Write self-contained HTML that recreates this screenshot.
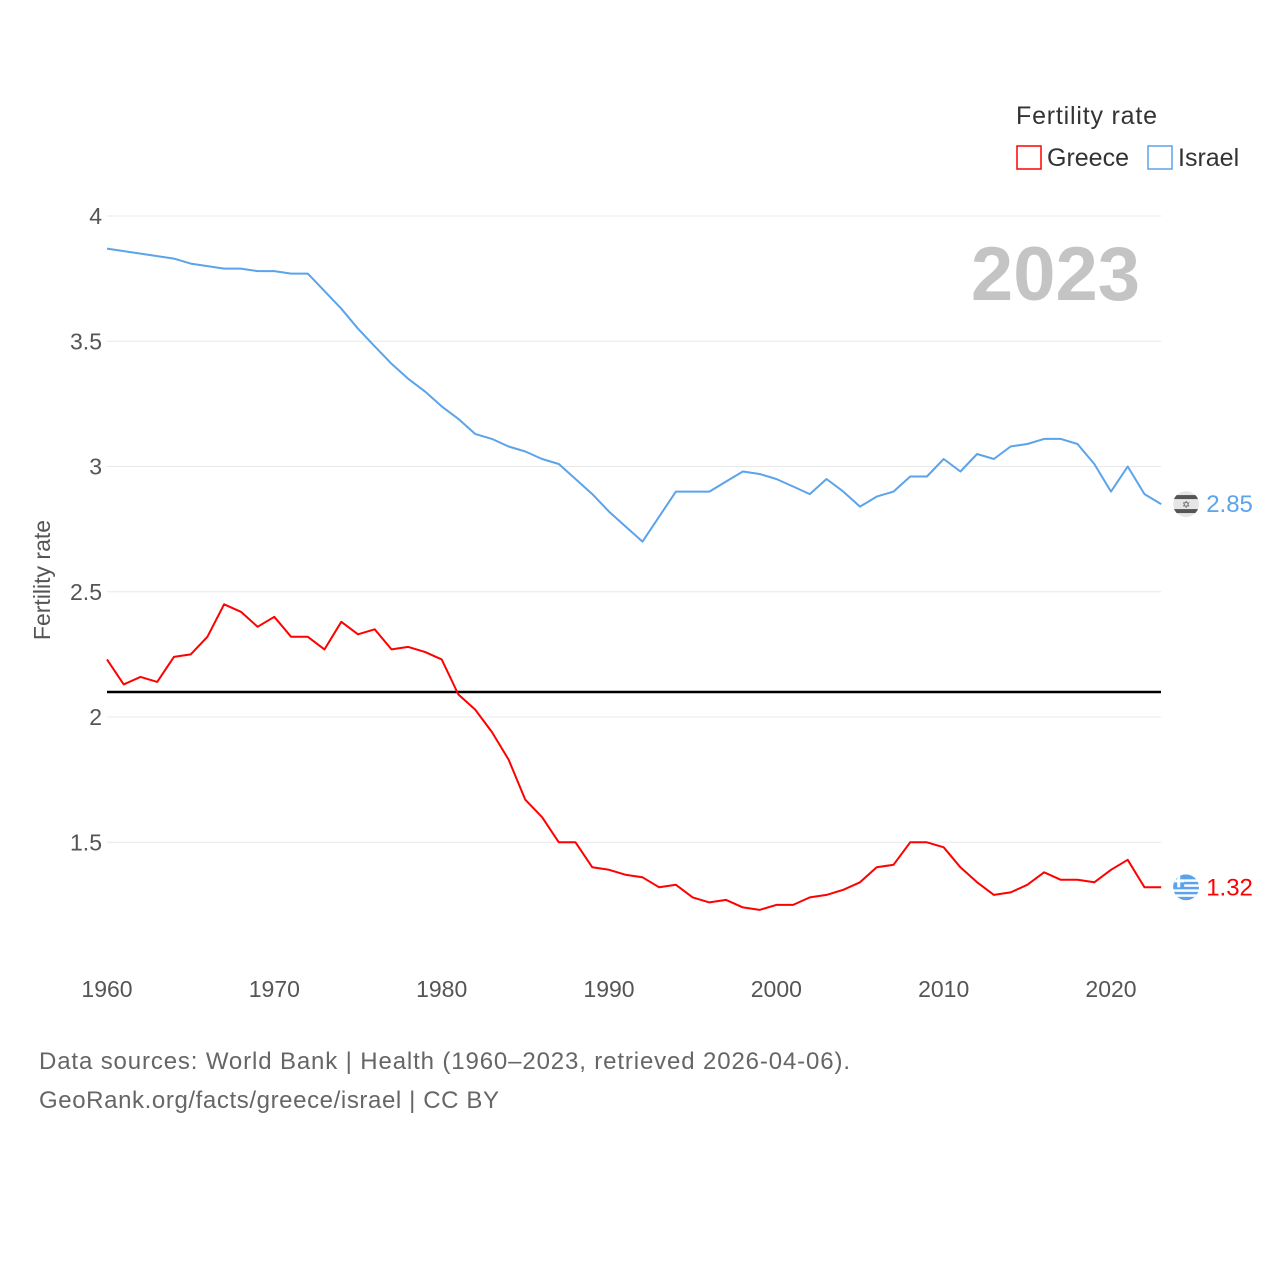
<!DOCTYPE html>
<html><head><meta charset="utf-8">
<style>
html,body{margin:0;padding:0;background:#fff;}
body{width:1280px;height:1280px;overflow:hidden;font-family:"Liberation Sans",sans-serif;}
svg text{font-family:"Liberation Sans",sans-serif;}
</style></head>
<body>
<svg id="chart" width="1280" height="1280" viewBox="0 0 1280 1280" xmlns="http://www.w3.org/2000/svg">
  <defs>
    <clipPath id="flagclip1"><circle cx="1186" cy="503" r="13"/></clipPath>
    <clipPath id="flagclip2"><circle cx="1186" cy="886" r="13"/></clipPath>
  </defs>
  <g id="grid"></g>
  <g id="yticks"></g>
  <g id="xticks"></g>
  <text x="1140" y="300" text-anchor="end" font-size="76" font-weight="bold" fill="#c4c4c4">2023</text>
  <text transform="translate(50,580) rotate(-90)" text-anchor="middle" font-size="23" fill="#555">Fertility rate</text>
  <g id="series"></g>
  <g>
    <text x="1016" y="124" font-size="25" fill="#333" textLength="141">Fertility rate</text>
    <g>
      <rect x="1017" y="146" width="24" height="23" fill="none" stroke="#ff0000" stroke-width="1.5"/>
      <text x="1047" y="166" font-size="25" fill="#333">Greece</text>
    </g>
    <g>
      <rect x="1148" y="146" width="24" height="23" fill="none" stroke="#5ba3ea" stroke-width="1.5"/>
      <text x="1178" y="166" font-size="25" fill="#333">Israel</text>
    </g>
  </g>
  <text x="39" y="1069" font-size="24" fill="#666" textLength="811">Data sources: World Bank | Health (1960–2023, retrieved 2026-04-06).</text>
  <text x="39" y="1108" font-size="24" fill="#666" textLength="460">GeoRank.org/facts/greece/israel | CC BY</text>
</svg>
<script>
const years = [];
for (let y = 1960; y <= 2023; y++) years.push(y);
const greece = [2.23,2.13,2.16,2.14,2.24,2.25,2.32,2.45,2.42,2.36,2.40,2.32,2.32,2.27,2.38,2.33,2.35,2.27,2.28,2.26,2.23,2.09,2.03,1.94,1.83,1.67,1.60,1.50,1.50,1.40,1.39,1.37,1.36,1.32,1.33,1.28,1.26,1.27,1.24,1.23,1.25,1.25,1.28,1.29,1.31,1.34,1.40,1.41,1.50,1.50,1.48,1.40,1.34,1.29,1.30,1.33,1.38,1.35,1.35,1.34,1.39,1.43,1.32,1.32];
const israel = [3.87,3.86,3.85,3.84,3.83,3.81,3.80,3.79,3.79,3.78,3.78,3.77,3.77,3.70,3.63,3.55,3.48,3.41,3.35,3.30,3.24,3.19,3.13,3.11,3.08,3.06,3.03,3.01,2.95,2.89,2.82,2.76,2.70,2.80,2.90,2.90,2.90,2.94,2.98,2.97,2.95,2.92,2.89,2.95,2.90,2.84,2.88,2.90,2.96,2.96,3.03,2.98,3.05,3.03,3.08,3.09,3.11,3.11,3.09,3.01,2.90,3.00,2.89,2.85];
const yTicks = [1.5,2,2.5,3,3.5,4];
const yTickLabels = ["1.5","2","2.5","3","3.5","4"];
const xTicks = [1960,1970,1980,1990,2000,2010,2020];
const refValue = [2.1];

const NS = "http://www.w3.org/2000/svg";
const X = v => 107 + (v - 1960) * (1004 / 60);
const Y = v => 717 - (v - 2) * 250.5;
function mk(tag, attrs, parent){const e=document.createElementNS(NS,tag);for(const k in attrs)e.setAttribute(k,attrs[k]);parent.appendChild(e);return e;}
const grid=document.getElementById('grid'), yt=document.getElementById('yticks'), xt=document.getElementById('xticks'), ser=document.getElementById('series');
yTicks.forEach((t,i)=>{
  const l=mk('line',{x1:107,x2:1161,y1:Y(t),y2:Y(t),stroke:'#e8e8e8','stroke-width':1},grid);
  
  
  const tx=mk('text',{x:102,y:Y(t)+8,'text-anchor':'end','font-size':23,fill:'#555'},yt);
  tx.textContent=yTickLabels[i];
  
  
});
xTicks.forEach(t=>{
  const tx=mk('text',{x:X(t),y:997,'text-anchor':'middle','font-size':23,fill:'#555'},xt);
  tx.textContent=t;
  
  
});
const ref=mk('line',{x1:107,x2:1161,y1:Y(refValue[0]),y2:Y(refValue[0]),stroke:'#000','stroke-width':2.5},ser);


function line(vals,color,name){
  const d=vals.map((v,i)=>(i?'L':'M')+X(years[i]).toFixed(1)+','+Y(v).toFixed(1)).join('');
  const p=mk('path',{d:d,fill:'none',stroke:color,'stroke-width':2,'stroke-linejoin':'round'},ser);
  
  
}
line(israel,'#5ba3ea','israel-line');
line(greece,'#ff0000','greece-line');
function endMark(vals,color,name,flagColor,label,clip){
  const v=vals[vals.length-1], x=X(years[years.length-1]), y=Y(v);
  const g=mk('g',{},ser);
  
  
  const f=mk('g',{transform:'translate(0,'+(y-(label==='i'?503:886))+')'},g);
  const fc=mk('g',{'clip-path':'url(#'+clip+')'},f);
  const cy=label==='i'?503:886;
  mk('circle',{cx:x+25,cy:cy,r:13,fill:flagColor},fc);
  if(label==='i'){mk('rect',{x:x+12,y:cy-9,width:26,height:4,fill:'#555'},fc);mk('rect',{x:x+12,y:cy+5,width:26,height:4,fill:'#555'},fc);mk('text',{x:x+25,y:cy+4,'text-anchor':'middle','font-size':10,fill:'#555'},fc).textContent='✡';}
  else{for(let k=0;k<4;k++)mk('rect',{x:x+12,y:cy-8+k*5,width:26,height:2.5,fill:'#fff'},fc);mk('rect',{x:x+12,y:cy-13,width:11,height:13,fill:'#5ba3ea'},fc);mk('rect',{x:x+16,y:cy-13,width:3,height:13,fill:'#fff'},fc);mk('rect',{x:x+12,y:cy-8,width:11,height:3,fill:'#fff'},fc);}
  const t=mk('text',{x:x+45,y:y+8,'font-size':24,fill:color},g);
  t.textContent=v.toFixed(2);
}
endMark(israel,'#5ba3ea','israel-end-label','#e6e6e6','i','flagclip1');
endMark(greece,'#ff0000','greece-end-label','#5ba3ea','g','flagclip2');
</script>
</body></html>
